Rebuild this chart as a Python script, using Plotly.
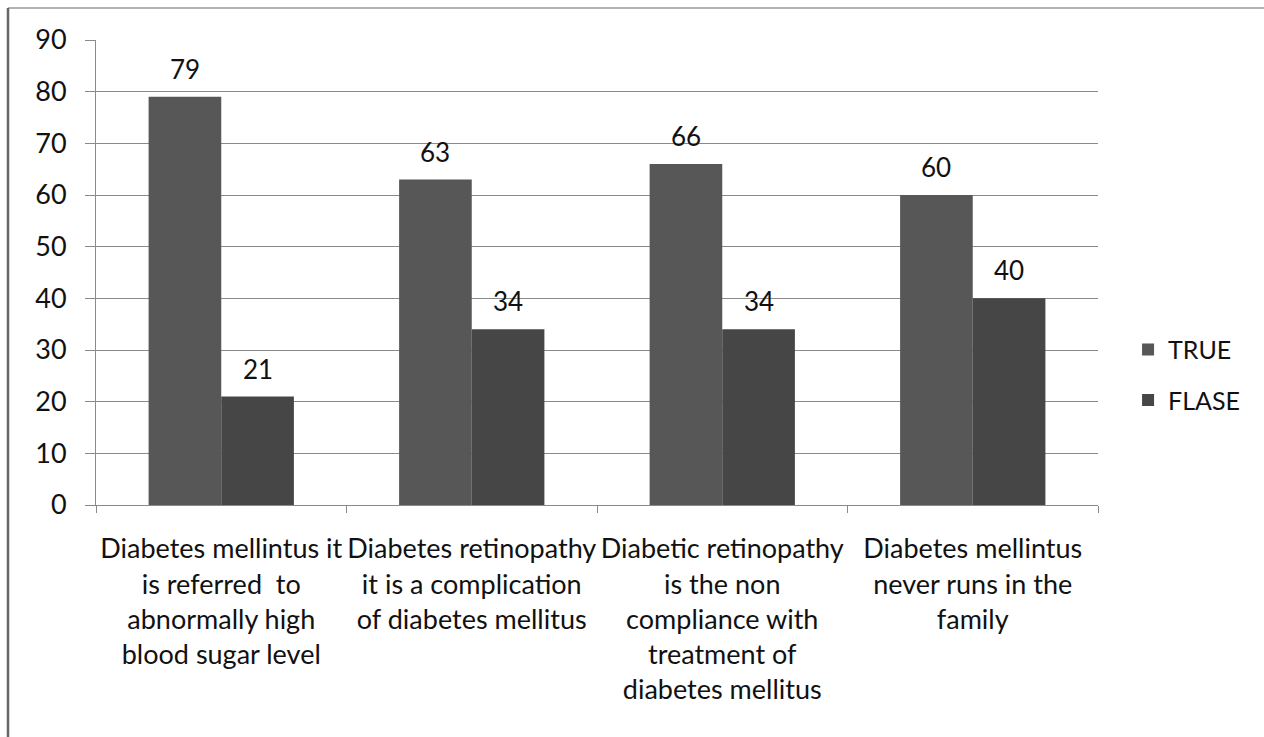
import plotly.graph_objects as go

# Survey statements (x categories) and answer percentages
categories = [
    "Diabetes mellintus it<br>is referred  to<br>abnormally high<br>blood sugar level",
    "Diabetes retinopathy<br>it is a complication<br>of diabetes mellitus",
    "Diabetic retinopathy<br>is the non<br>compliance with<br>treatment of<br>diabetes mellitus",
    "Diabetes mellintus<br>never runs in the<br>family",
]
true_values = [79, 63, 66, 60]
false_values = [21, 34, 34, 40]
series_names = ["TRUE", "FLASE"]
y_ticks = [0, 10, 20, 30, 40, 50, 60, 70, 80, 90]

FONT = "Lato, Carlito, Calibri, sans-serif"
GRID = "#8a8a8a"
TEXT = "#111111"
BAR_GAP = 0.42

fig = go.Figure()
fig.add_trace(go.Bar(
    x=categories, y=true_values, name=series_names[0],
    marker=dict(color="#575757", line=dict(width=0)),
    legendgroup="t",
))
fig.add_trace(go.Bar(
    x=categories, y=false_values, name=series_names[1],
    marker=dict(color="#464646", line=dict(width=0)),
    legendgroup="f",
))

# Value labels above each bar (grouped bar offsets on the category axis)
half = (1 - BAR_GAP) / 4
for i, (tv, fv) in enumerate(zip(true_values, false_values)):
    for off, v in ((-half, tv), (half, fv)):
        fig.add_annotation(
            x=i + off, y=v, text=str(v), showarrow=False,
            yshift=28, font=dict(family=FONT, size=26, color=TEXT),
        )

# Outer frame lines (top and left edges)
fig.add_shape(type="line", xref="paper", yref="paper",
              x0=(8 - 96) / 1002, x1=(1264 - 96) / 1002,
              y0=(505 - 8) / 465, y1=(505 - 8) / 465,
              line=dict(color="#9a9a9a", width=1.5))
fig.add_shape(type="line", xref="paper", yref="paper",
              x0=(8 - 96) / 1002, x1=(8 - 96) / 1002,
              y0=(505 - 8) / 465, y1=(505 - 740) / 465,
              line=dict(color="#666666", width=2.5))

fig.update_layout(
    width=1264, height=737,
    margin=dict(l=96, r=166, t=40, b=232, autoexpand=False),
    paper_bgcolor="white", plot_bgcolor="white",
    barmode="group", bargap=BAR_GAP, bargroupgap=0,
    font=dict(family=FONT, size=27, color=TEXT),
    showlegend=True,
    legend=dict(
        x=1.03, y=0.28, xanchor="left", yanchor="middle",
        font=dict(family=FONT, size=25, color=TEXT),
        traceorder="grouped", tracegroupgap=15,
        bgcolor="rgba(0,0,0,0)",
    ),
)
fig.update_xaxes(
    type="category", tickson="boundaries", tickangle=0, automargin=False,
    ticks="outside", ticklen=7, tickcolor=GRID, tickwidth=1,
    showline=True, linecolor=GRID, linewidth=1,
    showgrid=False, ticklabelstandoff=20,
    tickfont=dict(family=FONT, size=27, color=TEXT),
)
fig.update_yaxes(
    range=[0, 90], tickvals=y_ticks, automargin=False,
    ticks="outside", ticklen=10, tickcolor=GRID, tickwidth=1,
    showline=True, linecolor=GRID, linewidth=1,
    showgrid=True, gridcolor=GRID, gridwidth=1,
    zeroline=False, ticklabelstandoff=13,
    tickfont=dict(family=FONT, size=27, color=TEXT),
)

fig.write_html("out.html")
